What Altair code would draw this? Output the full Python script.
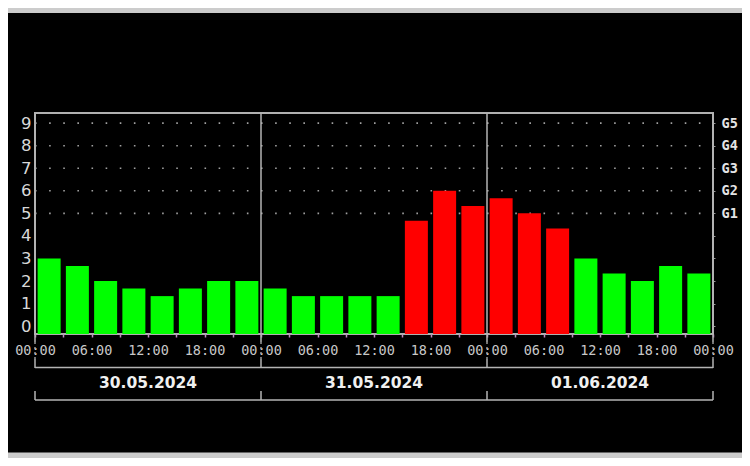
import altair as alt
import pandas as pd

# ---- data ----
days = ["30.05.2024", "31.05.2024", "01.06.2024"]
kp = [3.0, 2.67, 2.0, 1.67, 1.33, 1.67, 2.0, 2.0,
      1.67, 1.33, 1.33, 1.33, 1.33, 4.67, 6.0, 5.33,
      5.67, 5.0, 4.33, 3.0, 2.33, 2.0, 2.67, 2.33]
level = (["quiet"] * 13) + (["storm"] * 6) + (["quiet"] * 5)
tick_labels = ["00:00", "06:00", "12:00", "18:00"] * 3 + ["00:00"]
y_ticks = [0, 1, 2, 3, 4, 5, 6, 7, 8, 9]
g_levels = [5, 6, 7, 8, 9]
g_labels = ["G1", "G2", "G3", "G4", "G5"]

W, H = 678, 221
YMIN, YMAX = -0.35, 9.45
HOURS = 24 * len(days)

bars = pd.DataFrame({
    "x": [3 * i + 1.5 for i in range(len(kp))],
    "kp": kp,
    "level": level,
})
grid = pd.DataFrame({"g": g_levels})
bounds = pd.DataFrame({"b": [24 * i for i in range(len(days) + 1)]})
dates = pd.DataFrame({"c": [24 * i + 12 for i in range(len(days))], "d": days})
hlines = pd.DataFrame({"k": [0]})

xs = alt.Scale(domain=[0, HOURS], nice=False, zero=False, padding=0)
ys = alt.Scale(domain=[YMIN, YMAX], nice=False, zero=False, padding=0)

lbl_arr = "[" + ",".join("'%s'" % t for t in tick_labels) + "]"
g_arr = "[" + ",".join("'%s'" % (g_labels[g_levels.index(v)] if v in g_levels else "") for v in y_ticks) + "]"

x_axis = alt.Axis(
    values=list(range(0, HOURS + 1, 3)),
    labelExpr=f"datum.value % 6 == 0 ? {lbl_arr}[datum.value / 6] : ''",
    labelFlush=False, labelOverlap=False, domain=False, grid=False,
    tickSize=3, tickColor="#c08ac0", tickWidth=1.5,
    labelFont="DejaVu Sans Mono", labelFontSize=13.5, labelColor="#c8c8c8",
    labelPadding=6, title=None,
)
y_axis = alt.Axis(
    values=y_ticks, orient="left", domain=False, ticks=False, grid=False,
    labelFont="DejaVu Sans", labelFontSize=16.5, labelColor="#d8d8d8",
    labelPadding=4, title=None,
)
g_axis = alt.Axis(
    values=y_ticks, orient="right", domain=False, grid=False,
    ticks=True, tickSize=2, tickColor="#999999",
    labelExpr=f"{g_arr}[datum.value]",
    labelFont="DejaVu Sans Mono", labelFontWeight="bold", labelFontSize=13.5,
    labelColor="#e4e4e4", labelPadding=6, title=None,
)

grid_layer = alt.Chart(grid).mark_rule(
    color="#a0a0a0", strokeWidth=1.6, strokeDash=[1.6, 12.525]
).encode(
    x=alt.datum(0, scale=xs, axis=x_axis),
    x2=alt.datum(HOURS),
    y=alt.Y("g:Q", scale=ys, axis=g_axis),
)

bar_layer = alt.Chart(bars).mark_bar(size=23).encode(
    x=alt.X("x:Q", scale=xs, axis=x_axis),
    y=alt.Y("kp:Q", scale=ys, axis=y_axis),
    y2=alt.datum(YMIN),
    color=alt.Color("level:N", scale=alt.Scale(domain=["quiet", "storm"],
                                                range=["#00ff00", "#ff0000"]),
                    legend=None),
)

line_col = "#b4b4b4"
sep_layer = alt.Chart(bounds).mark_rule(color=line_col, strokeWidth=1.5).encode(
    x=alt.X("b:Q", scale=xs, axis=x_axis), y=alt.value(0), y2=alt.value(229))
sep_dash = alt.Chart(bounds).mark_rule(color="#9a9a9a", strokeWidth=1.5,
                                       strokeDash=[2, 3]).encode(
    x=alt.X("b:Q", scale=xs, axis=x_axis), y=alt.value(229), y2=alt.value(246))
brk1 = alt.Chart(bounds).mark_rule(color=line_col, strokeWidth=1.5).encode(
    x=alt.X("b:Q", scale=xs, axis=x_axis), y=alt.value(246), y2=alt.value(255))
brk2 = alt.Chart(bounds).mark_rule(color=line_col, strokeWidth=1.5).encode(
    x=alt.X("b:Q", scale=xs, axis=x_axis), y=alt.value(278), y2=alt.value(287))
h1 = alt.Chart(hlines).mark_rule(color=line_col, strokeWidth=1.5).encode(
    x=alt.datum(0, scale=xs, axis=x_axis), x2=alt.datum(HOURS), y=alt.value(254.5))
h2 = alt.Chart(hlines).mark_rule(color=line_col, strokeWidth=1.5).encode(
    x=alt.datum(0, scale=xs, axis=x_axis), x2=alt.datum(HOURS), y=alt.value(287))

date_layer = alt.Chart(dates).mark_text(
    font="DejaVu Sans", fontSize=15.5, fontWeight="bold", color="#f0f0f0",
    baseline="middle", align="center"
).encode(x=alt.X("c:Q", scale=xs, axis=x_axis), y=alt.value(270), text="d:N")

band_top = alt.Chart(hlines).mark_rect(color="#cccccc").encode(
    x=alt.value(-27), x2=alt.value(W + 29), y=alt.value(-105), y2=alt.value(-100))
band_bot = alt.Chart(hlines).mark_rect(color="#cccccc").encode(
    x=alt.value(-27), x2=alt.value(W + 29), y=alt.value(339.5), y2=alt.value(345))

chart = alt.layer(
    grid_layer, bar_layer, sep_layer, sep_dash, brk1, brk2, h1, h2, date_layer,
    band_top, band_bot,
).resolve_axis(y="independent").properties(
    width=W, height=H,
    background="black",
    padding={"left": 27, "top": 105, "right": 29, "bottom": 124},
    autosize=alt.AutoSizeParams(type="none"),
).configure_view(stroke="#b0b0b0", strokeWidth=2)

chart.save("out.html", embed_options={"renderer": "svg", "actions": False})
